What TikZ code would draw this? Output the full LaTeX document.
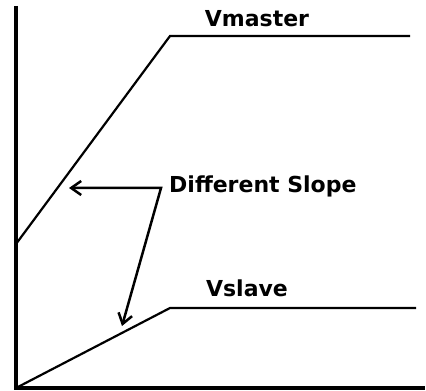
\documentclass[tikz,border=0pt]{standalone}
\usepackage{fontspec}
\setmainfont{DejaVu Sans}
\usetikzlibrary{arrows.meta}

\begin{document}
\begin{tikzpicture}[x=1pt, y=1pt, >={Straight Barb[length=10pt,width=14pt]},
    axis/.style={line width=3.2pt},
    curve/.style={line width=2.2pt},
    pointer/.style={line width=2.5pt},
    lbl/.style={inner sep=0pt, font=\bfseries\fontsize{22}{26}\selectfont}]
    \useasboundingbox (0,0) rectangle (426,391);

    % 坐标轴
    \coordinate (O) at (16, 3);
    \coordinate (Ytop) at (16, 385);
    \coordinate (Xend) at (425, 3);
    \draw[axis] (Ytop) -- (O) -- (Xend);

    % Vmaster 曲线
    \coordinate (M0) at (16, 147);
    \coordinate (M1) at (170, 355);
    \coordinate (M2) at (410, 355);
    \draw[curve] (M0) -- (M1) -- (M2);
    \node[lbl] (vmaster) at (257, 372) {Vmaster};

    % Vslave 曲线
    \coordinate (S1) at (170, 83);
    \coordinate (S2) at (416, 83);
    \draw[curve] (O) -- (S1) -- (S2);
    \node[lbl] (vslave) at (247, 103) {Vslave};

    % 斜率标注及两个箭头
    \node[lbl, anchor=west] (slope) at (169, 205) {Different Slope};
    \coordinate (Knee) at (161, 203);
    \coordinate (TipM) at (69, 203);
    \coordinate (TipS) at (122, 65);
    \draw[pointer, <->] (TipM) -- (Knee) -- (TipS);
\end{tikzpicture}
\end{document}
